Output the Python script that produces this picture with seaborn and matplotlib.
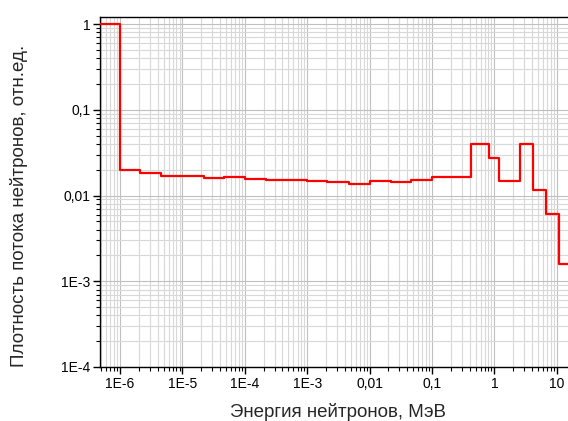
import numpy as np
import pandas as pd
import matplotlib
matplotlib.use("Agg")
import matplotlib.pyplot as plt
import matplotlib.ticker as mticker
import seaborn as sns

# Bin edges (MeV) and relative flux density values
energy_edges = [1e-7, 1e-6, 2.1e-6, 4.5e-6, 2.2e-5, 4.6e-5, 1e-4, 2.2e-4, 1e-3,
                2.1e-3, 4.7e-3, 1e-2, 2.2e-2, 4.7e-2, 1e-1, 4.2e-1, 0.82, 1.2,
                2.6, 4.1, 6.8, 11.0, 30.0]
flux_values = [1.0, 0.0200, 0.0181, 0.0171, 0.0160, 0.0165, 0.0157, 0.0150,
               0.0146, 0.0143, 0.0137, 0.0146, 0.0142, 0.0150, 0.0163, 0.0394,
               0.0275, 0.0147, 0.0394, 0.0116, 0.0061, 0.0016]

x_ticks = [1e-6, 1e-5, 1e-4, 1e-3, 1e-2, 1e-1, 1, 10]
x_tick_labels = ["1E-6", "1E-5", "1E-4", "1E-3", "0,01", "0,1", "1", "10"]
y_ticks = [1e-4, 1e-3, 1e-2, 1e-1, 1]
y_tick_labels = ["1E-4", "1E-3", "0,01", "0,1", "1"]

df = pd.DataFrame({"E": energy_edges, "F": flux_values + [flux_values[-1]]})

sns.set_style("ticks")
plt.rcParams['font.family'] = ['Liberation Sans', 'DejaVu Sans']

fig = plt.figure(figsize=(5.68, 4.21), dpi=100)
ax = fig.add_axes([100 / 568, 1 - 367 / 421, 480 / 568, 350 / 421])

sns.lineplot(data=df, x="E", y="F", ax=ax, color="#ff0000", linewidth=1.6,
             drawstyle="steps-post", zorder=5)

ax.set_xscale("log")
ax.set_yscale("log")
ax.set_xlim(4.78e-7, 23.6)
ax.set_ylim(1e-4, 1.207)

ax.set_xticks(x_ticks)
ax.set_xticklabels(x_tick_labels)
ax.set_yticks(y_ticks)
ax.set_yticklabels(y_tick_labels)
ax.xaxis.set_minor_locator(mticker.LogLocator(base=10, subs=np.arange(2, 10), numticks=100))
ax.yaxis.set_minor_locator(mticker.LogLocator(base=10, subs=np.arange(2, 10), numticks=100))
ax.xaxis.set_minor_formatter(mticker.NullFormatter())
ax.yaxis.set_minor_formatter(mticker.NullFormatter())

ax.grid(which="major", color="#c0c0c0", linewidth=0.8)
ax.grid(which="minor", color="#d8d8d8", linewidth=0.8)
ax.set_axisbelow(True)

for s in ax.spines.values():
    s.set_color("black")
    s.set_linewidth(1.0)
ax.spines["right"].set_visible(False)

ax.tick_params(which="major", direction="out", length=5, width=1.0, labelsize=10,
               colors="black", pad=2)
ax.tick_params(which="minor", direction="out", length=3, width=0.8, colors="black")

ax.set_xlabel("Энергия нейтронов, МэВ", fontsize=13.5, va="center")
ax.set_ylabel("Плотность потока нейтронов, отн.ед.", fontsize=13.5)
ax.xaxis.set_label_coords((338 - 100) / 480, -(412 - 367) / 350)
ax.yaxis.set_label_coords(-(100 - 28) / 480, (367 - 206) / 350)

fig.savefig("out.png", dpi=100)
